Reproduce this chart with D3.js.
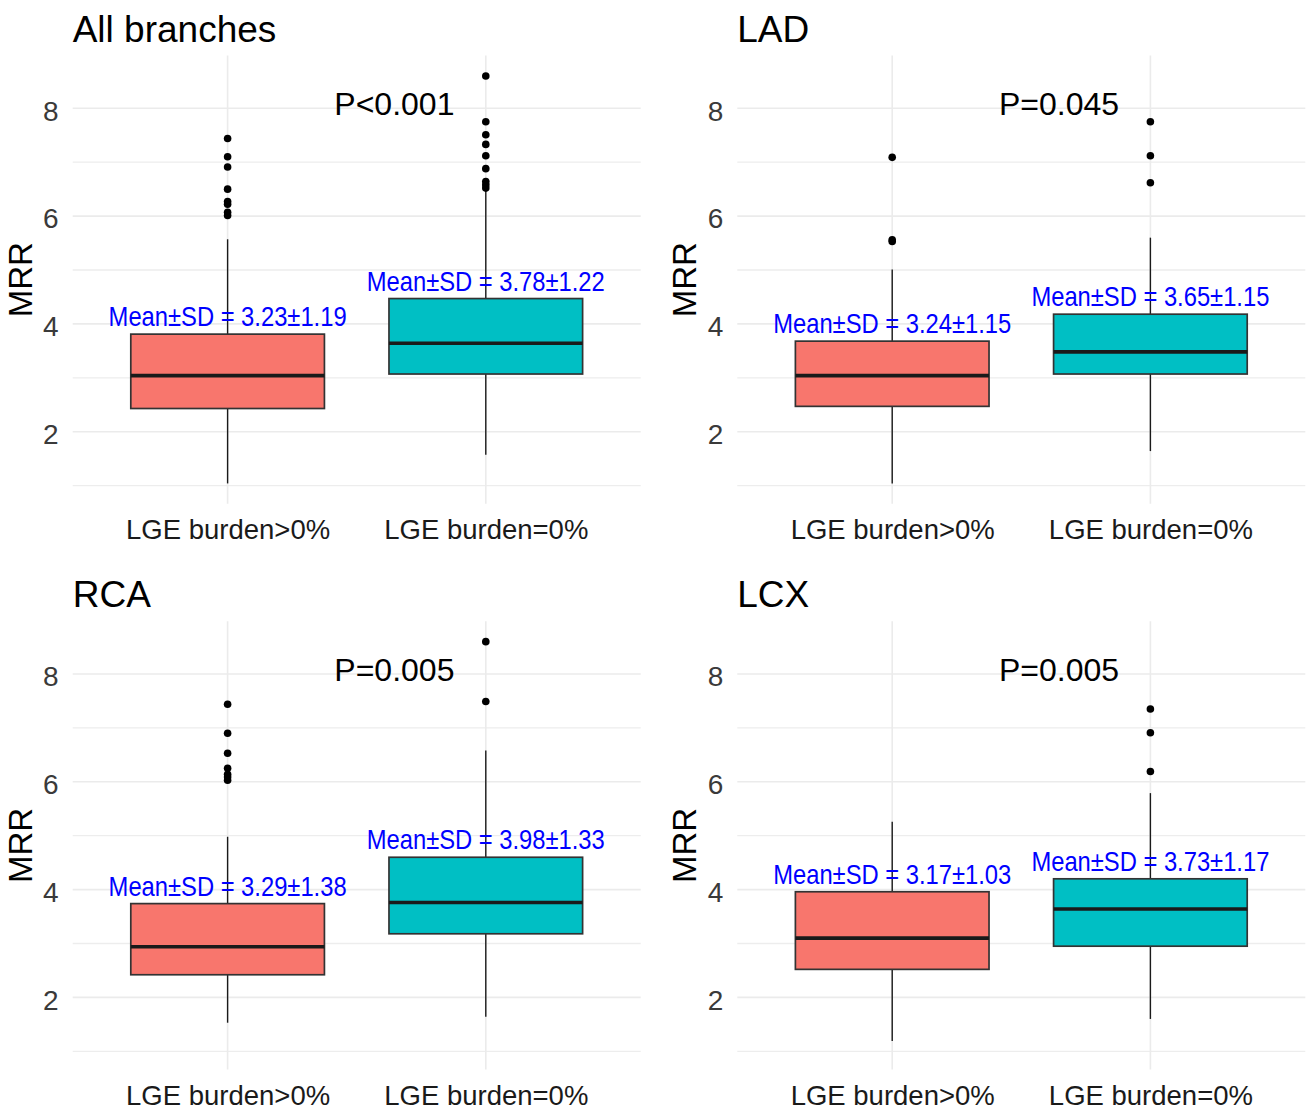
<!DOCTYPE html>
<html>
<head>
<meta charset="utf-8">
<script src="https://cdn.jsdelivr.net/npm/d3@7"></script>
<style>
  body { margin: 0; background: #fff; }
  svg { display: block; font-family: "Liberation Sans", Arial, sans-serif; }
</style>
</head>
<body>
<div class="mrr-boxplots"></div>
<script>

// panels and groups
const panels = ["All branches", "LAD", "RCA", "LCX"];
const groups = ["LGE burden>0%", "LGE burden=0%"];
const pLabels = ["P<0.001", "P=0.045", "P=0.005", "P=0.005"];
const meanSd = [
	["3.23±1.19", "3.78±1.22"],
	["3.24±1.15", "3.65±1.15"],
	["3.29±1.38", "3.98±1.33"],
	["3.17±1.03", "3.73±1.17"]
];

// box statistics, one pair [>0%, =0%] per panel
const lowWhisker  = [[1.04, 1.57], [1.04, 1.64], [1.53, 1.64], [1.19, 1.60]];
const q1          = [[2.43, 3.07], [2.47, 3.07], [2.42, 3.18], [2.52, 2.95]];
const medians     = [[3.04, 3.64], [3.04, 3.48], [2.94, 3.76], [3.10, 3.64]];
const q3          = [[3.81, 4.47], [3.68, 4.18], [3.74, 4.60], [3.96, 4.20]];
const highWhisker = [[5.57, 6.48], [5.01, 5.60], [4.98, 6.58], [5.26, 5.79]];
const outliers = [
	[[6.01, 6.07, 6.22, 6.27, 6.50, 6.91, 7.10, 7.44],
	 [6.52, 6.58, 6.64, 6.88, 7.12, 7.33, 7.51, 7.75, 8.60]],
	[[5.53, 5.56, 7.09],
	 [6.62, 7.12, 7.75]],
	[[6.03, 6.09, 6.14, 6.25, 6.53, 6.90, 7.44],
	 [7.49, 8.60]],
	[[],
	 [6.19, 6.91, 7.35]]
];

const fills = ["#F8766D", "#00BFC4"];

const width = 1306;
const height = 1111;
const colLeft = [72.7, 737.3];
const rowTop = [55.6, 621.3];
const panelW = 568;
const panelH = 448.2;

const svg = d3.select(".mrr-boxplots")
	.append("svg")
		.attr("width", width)
		.attr("height", height);

// shared y range across panels, ggplot style 5% expansion
const allValues = d3.merge([
	d3.merge(lowWhisker),
	d3.merge(highWhisker),
	d3.merge(outliers.map((p) => d3.merge(p)))
]);
const vMin = d3.min(allValues);
const vMax = d3.max(allValues);
const pad = (vMax - vMin) * 0.05;

panels.forEach((title, pi) => {
	const left = colLeft[pi % 2];
	const top = rowTop[Math.floor(pi / 2)];

	const y = d3.scaleLinear()
		.domain([vMin - pad, vMax + pad])
		.range([top + panelH, top]);
	const x = d3.scalePoint()
		.domain(groups)
		.range([left, left + panelW])
		.padding(0.6);
	const boxW = x.step() * 0.75;

	const g = svg.append("g").attr("class", "panel");

	// grid
	const major = y.ticks(5);
	const minor = major.map((t) => t - 1).filter((t) => t > y.domain()[0]);
	g.selectAll(".minor")
		.data(minor).enter()
		.append("line")
			.attr("x1", left).attr("x2", left + panelW)
			.attr("y1", (d) => y(d)).attr("y2", (d) => y(d))
			.attr("stroke", "#ededed")
			.attr("stroke-width", 1.3);
	g.selectAll(".major")
		.data(major).enter()
		.append("line")
			.attr("x1", left).attr("x2", left + panelW)
			.attr("y1", (d) => y(d)).attr("y2", (d) => y(d))
			.attr("stroke", "#ebebeb")
			.attr("stroke-width", 1.6);
	g.selectAll(".vgrid")
		.data(groups).enter()
		.append("line")
			.attr("x1", (d) => x(d)).attr("x2", (d) => x(d))
			.attr("y1", top).attr("y2", top + panelH)
			.attr("stroke", "#ebebeb")
			.attr("stroke-width", 1.6);

	// axes
	const yAxis = g.append("g")
		.attr("transform", `translate(${left},0)`)
		.call(d3.axisLeft(y).ticks(5).tickSize(0).tickPadding(14));
	yAxis.select(".domain").remove();
	yAxis.selectAll("text")
		.attr("dy", "0.42em")
		.attr("fill", "#3a3a3a")
		.style("font-size", "28px")
		.style("font-family", "'Liberation Sans', Arial, sans-serif");

	const xAxis = g.append("g")
		.attr("transform", `translate(0,${top + panelH})`)
		.call(d3.axisBottom(x).tickSize(0).tickPadding(16));
	xAxis.select(".domain").remove();
	xAxis.selectAll("text")
		.attr("fill", "#1a1a1a")
		.style("font-size", "27.5px")
		.style("font-family", "'Liberation Sans', Arial, sans-serif");

	g.append("text")
		.text("MRR")
		.attr("transform", `translate(${left - 41},${top + panelH / 2}) rotate(-90)`)
		.attr("text-anchor", "middle")
		.attr("fill", "#000")
		.style("font-size", "33px");

	g.append("text")
		.text(title)
		.attr("x", left)
		.attr("y", top - 14)
		.attr("fill", "#000")
		.style("font-size", "37px");

	// boxes
	const boxes = g.selectAll(".box")
		.data(groups).enter()
		.append("g")
			.attr("class", "box");

	boxes.append("line")
		.attr("x1", (d) => x(d)).attr("x2", (d) => x(d))
		.attr("y1", (d, i) => y(highWhisker[pi][i]))
		.attr("y2", (d, i) => y(q3[pi][i]))
		.attr("stroke", "#1a1a1a").attr("stroke-width", 1.4);
	boxes.append("line")
		.attr("x1", (d) => x(d)).attr("x2", (d) => x(d))
		.attr("y1", (d, i) => y(q1[pi][i]))
		.attr("y2", (d, i) => y(lowWhisker[pi][i]))
		.attr("stroke", "#1a1a1a").attr("stroke-width", 1.4);
	boxes.append("rect")
		.attr("x", (d) => x(d) - boxW / 2)
		.attr("width", boxW)
		.attr("y", (d, i) => y(q3[pi][i]))
		.attr("height", (d, i) => y(q1[pi][i]) - y(q3[pi][i]))
		.attr("fill", (d, i) => fills[i])
		.attr("stroke", "#333")
		.attr("stroke-width", 1.7);
	boxes.append("line")
		.attr("x1", (d) => x(d) - boxW / 2).attr("x2", (d) => x(d) + boxW / 2)
		.attr("y1", (d, i) => y(medians[pi][i]))
		.attr("y2", (d, i) => y(medians[pi][i]))
		.attr("stroke", "#1a1a1a").attr("stroke-width", 3.6);
	boxes.selectAll(".outlier")
		.data((d, i) => outliers[pi][i].map((v) => ({ g: d, v: v }))).enter()
		.append("circle")
			.attr("cx", (d) => x(d.g))
			.attr("cy", (d) => y(d.v))
			.attr("r", 3.8)
			.attr("fill", "#000");

	// annotations (narrow text like the original)
	boxes.append("text")
		.text((d, i) => "Mean±SD = " + meanSd[pi][i])
		.attr("transform", (d, i) => `translate(${x(d)},${y(q3[pi][i]) - 8}) scale(0.88,1)`)
		.attr("text-anchor", "middle")
		.attr("fill", "#0000ff")
		.style("font-size", "27px");

	g.append("text")
		.text(pLabels[pi])
		.attr("x", x(groups[0]) + 0.646 * x.step())
		.attr("y", y(8) + 7)
		.attr("text-anchor", "middle")
		.attr("fill", "#000")
		.style("font-size", "32px");
});

</script>
</body>
</html>
